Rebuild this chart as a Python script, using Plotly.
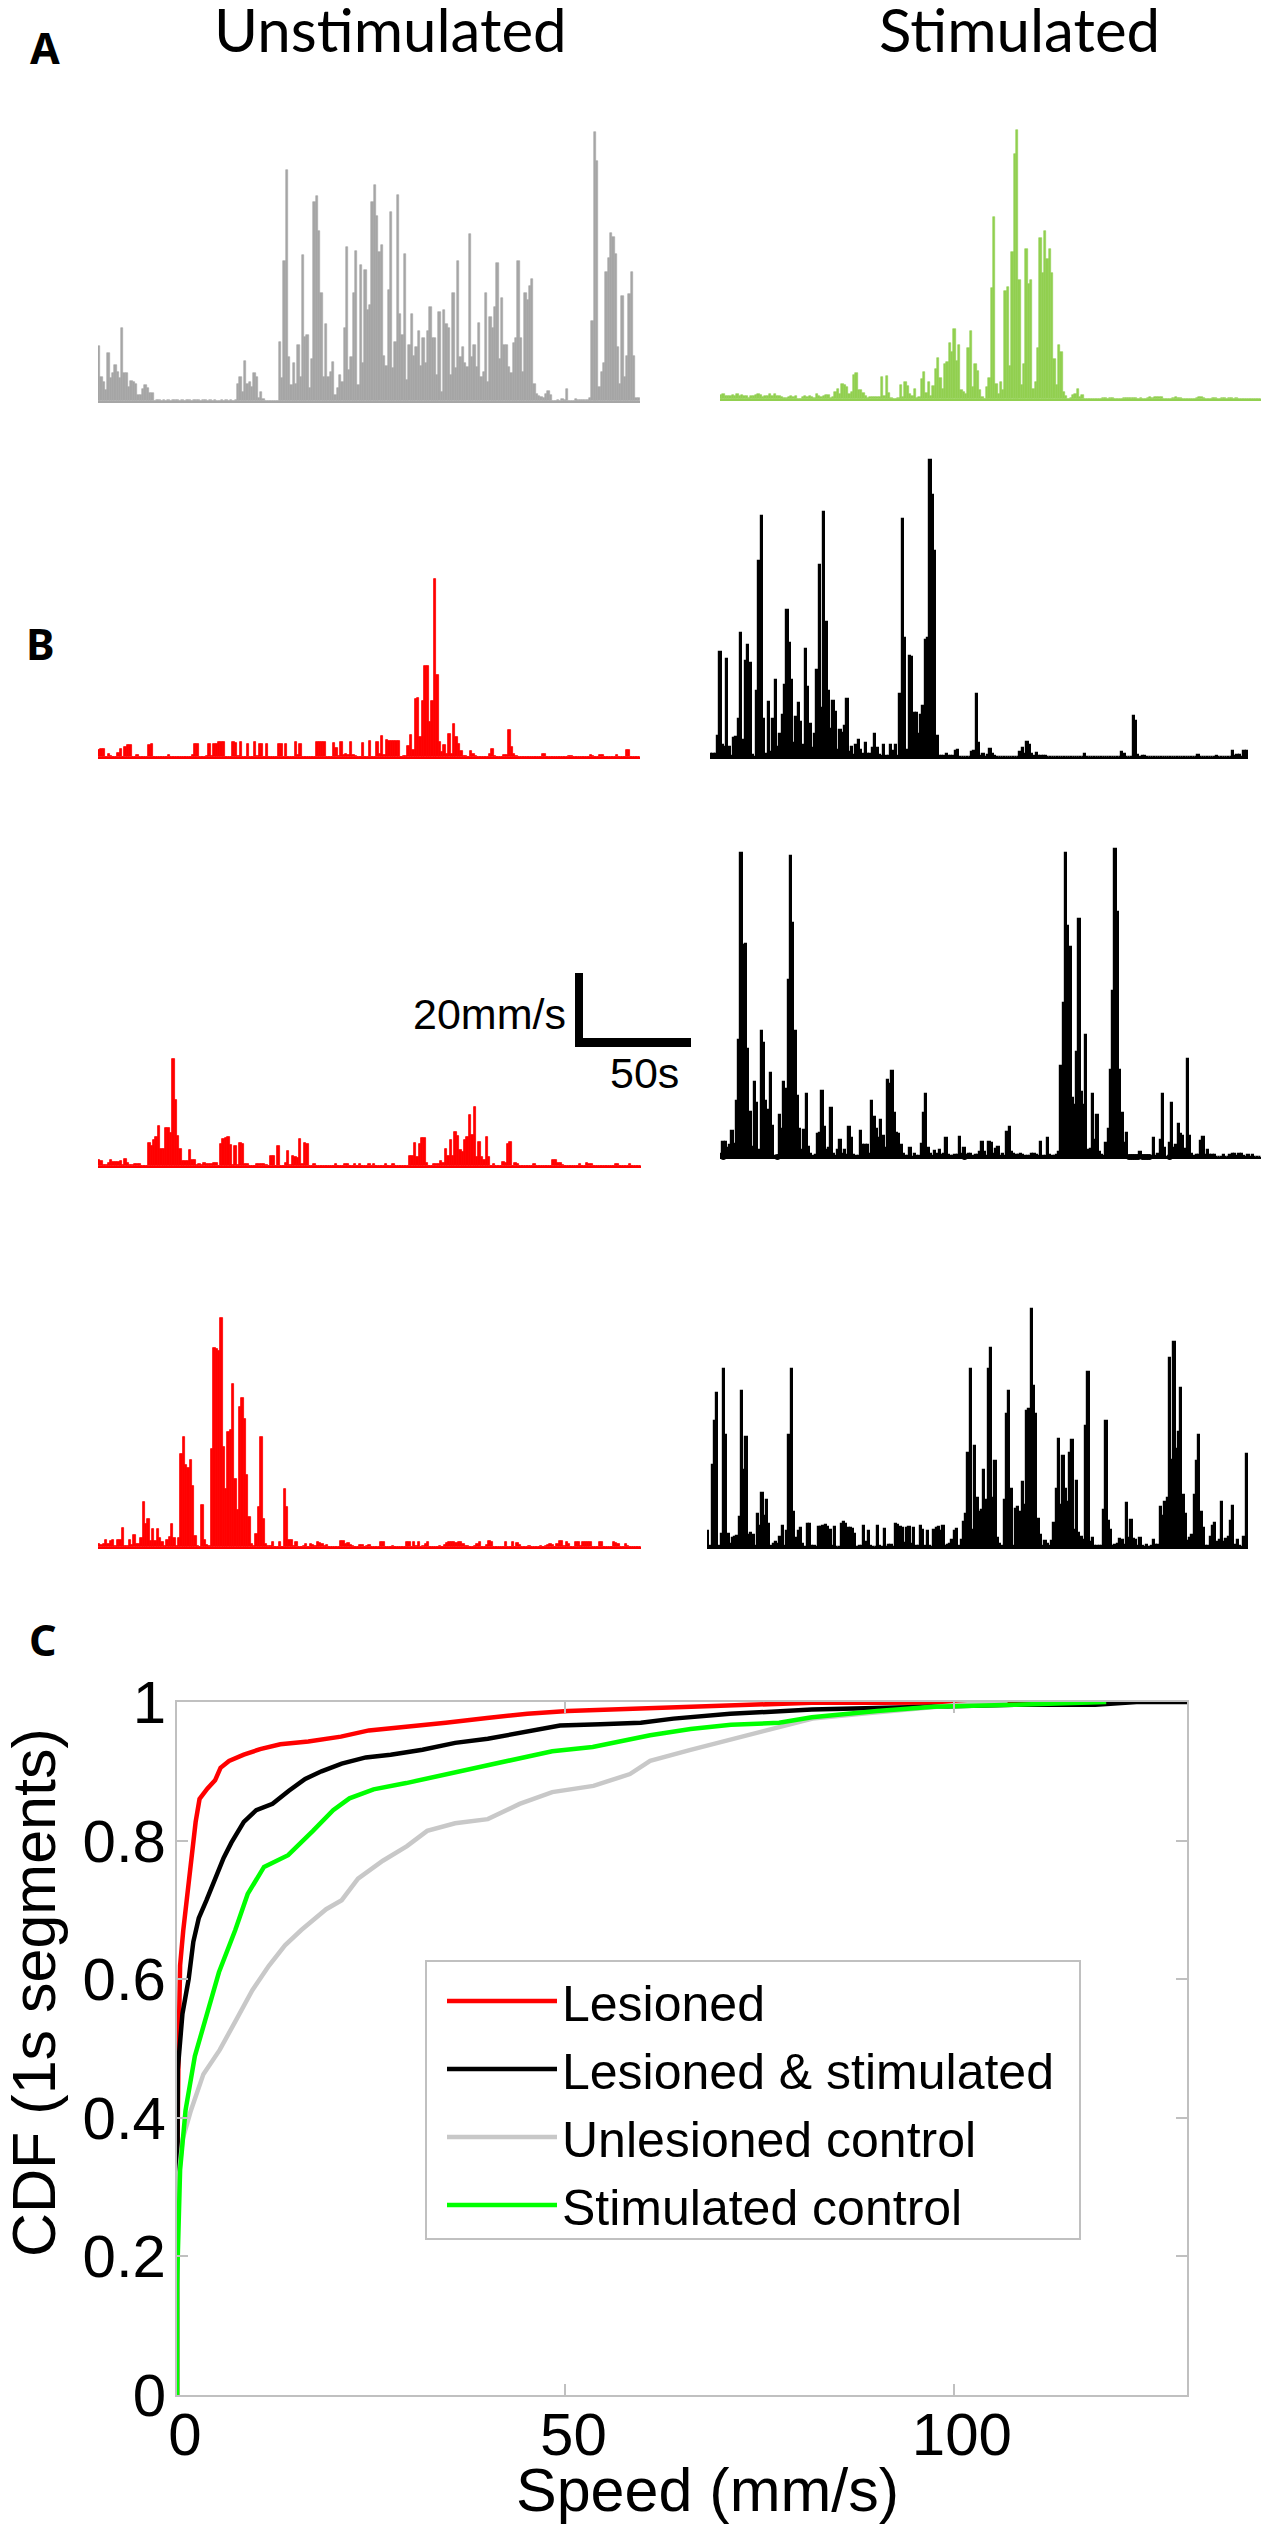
import plotly.graph_objects as go

W = 1267
H = 2536
BAR_PX_PER_MM = 3.5

# speed traces, mm/s per 1s segment
grey_unstim = [15.8,7,5.5,3.1,13.6,6.5,8,10.3,8.4,6.5,21,8,8,4,5.7,5.5,5,1.7,1.7,3.3,4.5,3.6,2.4,2.2,
    0.1,0.3,0.3,0.1,0.3,0.1,0.3,0.1,0.3,0.3,0.3,0.1,0.3,0.1,0.3,0.3,0.1,0.3,0.3,0.3,0.1,0.3,0.3,0.1,0.3,0.1,0.3,0.1,0.1,0.3,0.1,0.3,0.1,0.3,0.1,0.3,
    5,7,2.7,11.4,5,5.5,4,8,7,0.8,2.7,0.7,0.1,0.1,0.1,0.1,0.1,0.1,
    17,6.5,40,66,12.7,4.6,10.8,5,16,7,41.7,18.4,18.9,3.6,12,57,58.6,48.6,31,7,22,7,8.4,11.2,1.7,3.6,7.4,5.5,21,44,8.9,12.7,30.8,43,4.6,39,10.8,37.4,26,27.4,57,61.7,53,42.7,44.6,13,10,31.7,54,9.3,17,58.9,25,19,42,6,16,25,13,15.5,20,10,18,11,20,27,18,18,7.4,25.5,2.7,26,22,21,7.4,31,9.3,40,12.7,15.5,10.8,9.8,47.7,12.7,16,9.8,22.4,7,8.4,31,5.5,24,21,26.8,39.5,12,29.5,16,16,9.8,8,16.5,18,40,18,8.4,31,29,33,35,5,2,1.5,1.2,1,2,3,1.7,0.1,0.1,0.3,0.1,0.5,0.3,3.3,0.1,0.1,0.1,0.6,0.4,0.4,0.4,0.4,0.4,0.8,
    23,77,68.5,4,8.4,11,36.8,41,48,47,42,15.5,5,30,7,13,30.5,37,13,1,1]
green_stim = [1.2,1.3,1.0,0.9,1.0,1.1,1.0,1.3,1.0,1.2,1.0,1.0,0.3,0.9,1.0,1.1,1.5,1.2,0.7,0.8,1.0,1.3,0.9,1.3,0.8,1.0,0.7,0.2,0.2,0.6,0.8,0.6,0.9,
    0.1,0.1,0.7,0.8,0.5,0.9,0.5,0.4,1.3,0.8,0.6,0.8,1.1,1.2,0.3,0.6,
    2,2.8,1.4,4.3,4,3.3,1.3,2,7,7.5,2.5,2.5,1.8,1,0.2,0.6,0.6,0.6,0.7,0.5,6.4,0.8,6.6,1.7,0.2,0.1,0.1,0.2,4,0.6,4.9,3.7,1.5,1,2.8,0.2,0.6,5.6,7.8,1.7,5,1,3.7,8.5,11.6,6,2.8,10,10.5,16,13.5,20,11,15.5,2.5,2,1.5,14.5,19.5,3.5,10,8,2.5,0.5,0.1,3.5,6,31.8,52,4.2,1.5,4.8,2.5,31,32,9.5,42,70,77,34,4,10,43,33,34,3,5,14.5,46,36,48,40,43,36,11.5,4,15.5,13.5,2,1,0.1,0.2,1.2,1.3,3,0.5,1.2,
    0.1,0.1,0.1,0.1,0.1,0.1,0.1,0.1,0.3,0.3,0.1,0.2,0.3,0.1,0.1,0.1,0.1,0.3,0.4,0.3,0.2,0.4,0.3,0.1,0.2,0.1,0.1,0.3,0.5,0.4,0.5,0.6,0.5,0.5,0.1,0.1,0.1,0.1,0.3,0.6,0.4,0.3,0.1,0.1,0.1,0.1,0.1,0.1,0.4,0.5,0.5,0.4,0.1,0.1,0.1,0.3,0.3,0.1,0.1,0.3,0.4,0.1,0.3,0.3,0.1,0.3,0.1,0.1,0.1,0.1,0.1,0.1,0.1,0.1,0.1,0.1]
red_1 = [2,2.2,2.4,0.1,0.8,0.2,0.1,0.1,1.2,2.2,0.1,3,3.4,3.5,0.1,0.1,0.5,0.1,0.1,0.1,0.1,3.3,3.7,0.1,0.1,0.1,0.1,0.1,0.1,0.5,0.1,0.1,0.1,0.1,0.1,0.1,0.1,0.1,0.1,0.5,3.7,3.7,0.1,0.1,0.1,0.3,3.7,0.4,3.8,3.8,4.2,4.2,4.2,0.1,0.1,0.1,4.4,4,0.3,4.2,0.1,0.1,3.7,0.1,0.1,4.4,0.3,3.8,3.8,0.1,3.7,0.1,0.1,0.1,0.1,3.7,3.7,0.1,3.7,0.1,0.1,0.1,4.4,0.5,3.7,0.1,0.1,0.1,0.1,0.1,0.1,4.2,4.2,4.4,4.2,0.1,0.1,0.1,4,2.5,0.4,4.2,0.5,1,0.5,4.3,0.5,0.3,0.1,0.1,4,0.1,0.1,4.7,0.1,0.1,4.4,1,6.1,0.5,5,4.7,4.7,4.7,4.7,4.7,0.1,0.3,0.3,3.2,6.2,2,16.7,17,5.7,16,26,26,10,16,51,23.5,4.4,1.5,3.5,0.8,6.7,1,9.3,5.8,3.6,1.7,0.4,0.2,0.1,1.8,1,0.2,0.1,0.1,0.1,0.1,0.1,0.9,2.2,0.3,0.1,0.1,0.1,0.5,0.7,7.7,3,0.9,0.2,0.1,0.1,0.1,0.1,0.1,0.1,0.1,0.1,0.1,0.1,0.8,0.8,0.1,0.1,0.1,0.1,0.1,0.1,0.1,0.1,0.1,0.4,0.4,0.1,0.1,0.1,0.1,0.1,0.1,0.1,0.7,0.4,0.1,0.1,0.7,0.7,0.1,0.1,0.1,0.1,0.1,0.7,0.1,0.1,0.1,1.9,1.9,0.1,0.1,0.1,0.1]
black_1 = [0.8,0.8,1,6,30,3.5,3,28,3,0.2,5.5,5.8,10.8,35.5,5,27.5,32,27,0.5,0.1,19,56,69,11,1,15.8,1.5,11,22,3,6.5,12,20.5,42,32.5,22,4,11.5,15.5,10,3.5,31,20,9.5,2.5,6.5,25,55,14,70,38.5,19,8,16,13,2,7.8,7,9,16.5,1.5,2.8,0.5,3.5,5,2,1,4,1,1,2.5,6.7,2.5,0.5,0.2,3.5,0.2,0.2,3.3,1.7,3.3,0.2,18,68,34,2,29,28.5,12.5,12.5,6.5,12,14.5,33.5,34,85,75,59,6,0.3,0.3,0.4,1,0.3,0.2,0.2,1.6,2,0.1,0.1,0.1,0.1,0.1,1.5,1.8,18,4,0.2,0.8,0.1,0.6,2.2,1,0.4,0.1,0.1,0.1,0.1,0.1,0.1,0.1,0.1,0.1,0.1,1.5,2.6,1,4.2,3.5,1,0.2,1.1,0.2,0.4,0.2,0.4,0.05,0.05,0.05,0.05,0.05,0.05,0.05,0.05,0.05,0.05,0.05,0.05,0.05,0.05,0.05,0.05,1,0.05,0.05,0.05,0.05,0.05,0.05,0.05,0.05,0.05,0.05,0.05,0.05,0.05,0.05,0.05,1.5,1,0.1,0.1,0.1,11.6,10.2,0.6,0.1,0.4,0.4,0.05,0.05,0.05,0.05,0.05,0.05,0.05,0.05,0.05,0.05,0.05,0.05,0.05,0.05,0.05,0.05,0.05,0.05,0.05,0.05,0.05,0.05,0.6,0.05,0.05,0.05,0.05,0.05,0.05,0.05,0.4,0.05,0.05,0.05,0.05,0.05,0.05,1.6,0.2,0.5,0.7,0.1,1.7,1.8]
red_2 = [1.7,1.5,0.3,0.3,0.8,1.7,1.2,1.2,1.2,1.3,0.4,1.9,0.8,0.2,0.2,0.5,0.5,0.5,0.1,0.1,0.1,6.6,5.8,7.4,8.4,11.4,5,5,11,11,9.5,30.5,19,8.5,5,1.4,1.4,1.4,4.5,1.8,1.8,0.2,0.6,0.2,1,0.7,0.7,0.7,1,0.8,0.1,6.2,7.8,8,8.2,6,0.2,5.8,0.2,6.5,6.2,0.6,0.5,0.1,0.1,0.1,0.5,0.5,0.5,0.5,0.4,0.1,3,2.8,0.1,5.8,0.1,0.1,1,4.2,0.4,3,2.5,2.3,7.7,0.5,6.5,6.2,0.1,0.1,0.5,0.1,0.1,0.1,0.1,0.1,0.1,0.1,0.1,0.5,0.1,0.1,0.1,0.5,0.5,0.1,0.1,0.5,0.1,0.5,0.1,0.1,0.1,0.5,0.1,0.5,0.1,0.1,0.1,0.1,0.5,0.1,0.1,0.5,0.1,0.1,0.1,0.1,0.1,0.1,2.9,2.9,6.5,2.5,6.3,8,8,1,0.1,0.1,0.5,0.5,0.5,1.3,1,5,2.8,7.3,3,9.7,8.5,4.5,4,7.5,8.2,14.5,8.8,17,2.5,6.8,2.7,1.7,8.4,2.5,0.1,0.5,0.1,0.1,0.1,1.2,1,6.3,6.9,0.1,1,0.6,0.1,0.1,0.1,0.1,0.1,0.1,0.5,0.1,0.1,0.1,0.1,0.1,0.1,0.1,1.7,1.8,1,0.9,0.4,0.1,0.1,0.1,0.1,0.1,0.1,0.5,0.1,0.1,1,0.6,0.6,0.1,0.1,0.1,0.1,0.1,0.1,0.1,0.1,0.1,0.6,0.6,0.1,0.1,0.1,0.1,0.5,0.1,0.1,0.1,0.1]
black_2 = [1,4.2,4.2,2.5,3.5,7.3,3.8,16,33.5,87,60.5,61,31,13,3,21.5,15.5,2,36,32.5,16,13.5,24,9,0.3,0.2,12,8,21.5,19.5,50.5,86,67,36,17.5,8,2,7.8,18,3,1,0.4,0.5,6.5,7,19,8.5,2,2.5,14,1,0.2,2,5,1,2,0.5,8.7,5.5,0.5,0.2,0.2,7.5,3.5,3.5,3.5,1,16,11.5,8,5.5,10.5,6,2.5,22,21,24.5,12.5,7,6.5,3.3,1,0.4,0.4,2.7,0.1,1,0.2,0.3,3.8,12.7,18,2.5,1,0.2,1.7,1,2,0.7,1,5.5,0.7,0.3,0.4,0.5,0.7,5.6,1,2.7,0.7,1,1,0.2,0.5,0.6,1.5,4.2,1.4,0.3,4.2,4,1,2.3,3,0.3,1,0.2,7.2,8.5,1.3,1,0.6,0.5,0.9,0.5,0.3,0.4,0.4,0.8,0.9,0.5,0.3,4.2,0.4,0.3,5.5,0.7,0.4,0.3,0.6,1.5,26,44,87,66,60,17,15,30,68,18.5,15,35,2,2.2,18,5,12,1.5,0.6,0.3,4,8,25,47.5,88,70,25,12.5,4,7,0.1,0.1,0.1,0.1,0.1,1.3,0.1,0.1,0.1,0.1,0.1,5.5,0.3,1,5,18,2.7,0.1,4,15.5,2.7,3.3,9.5,6.5,6,2.3,28,6,0.9,0.3,0.5,0.5,4.5,5.8,0.6,2,0.6,0.6,0.5,0.1,0.1,0.1,0.5,0.1,0.1,0.7,1,1,0.3,1,1,0.3,0.1,0.6,0.1,0.6,0.1,0.1,0.1]
black_2_dots = [1,25,108,181,182,183,184,185,187,188,189,190,199]
red_3 = [1,0.6,1,2,1,1.8,2,0.4,2,2,5.3,0.3,0.4,2,0.5,3.3,1,1,2.7,13,6.5,7.9,1.8,5.2,1.8,5.2,2.6,1.4,0.3,2,2.8,6.5,2.5,0.3,2.7,26.5,31.5,23.5,22.5,25,17.5,3.2,0.2,0.1,12,2,0.5,0.3,28,57,56.5,56,65.5,28.5,16.5,33,33.5,46.5,19.5,10.5,40,42.5,36.5,20.5,8.5,0.8,0.2,3.7,11.5,31.5,8,0.9,0.2,0.2,1.4,0.1,0.1,1.4,0.1,16.5,11.5,2,2,0.2,1.4,0.1,0.1,0.4,1,0.1,1,0.7,0.4,1.4,1.1,0.8,0.4,0.6,0.1,0.1,0.1,0.1,0.1,1.8,1.8,1,1.2,0.5,0.2,0.1,0.1,0.6,0.6,0.1,0.4,0.6,0.1,0.1,0.1,0.1,1.4,1.4,0.1,0.1,0.1,0.3,0.1,0.1,0.1,0.1,0.1,1.4,1.4,0.1,1.4,0.2,1.4,0.1,0.4,1,1.4,0.1,0.1,0.1,0.1,0.3,0.1,0.5,1.2,1.4,1.4,1.4,1.2,1.4,1.3,1,0.4,0.2,0.1,0.1,0.3,1,1.4,0.1,0.1,0.5,1.7,1.5,0.1,0.1,0.1,0.1,0.1,1.4,0.1,0.1,1.4,0.1,1.2,0.7,0.1,0.1,0.1,0.3,0.1,0.1,0.1,0.1,0.3,0.1,0.3,0.6,1,0.5,0.1,1,1.7,1.7,0.3,1.4,1,0.1,0.1,1.3,1.3,0.4,1.3,1.4,1.4,1.4,0.1,0.1,0.1,1.4,1.4,0.1,0.1,0.1,0.1,1.4,1.2,1,0.1,0.1,1,0.4,0.1,0.1,0.1,0.1,0.1]
black_3 = [4.5,0.2,23.5,36,44,0.3,3.6,51,32,3.8,1,2.5,2.8,3.2,8.7,44.5,22,31.5,3.5,4,3.5,0.2,9.3,6,15.5,9,13.3,6.5,0.2,1,1.3,1,3,6,0.4,4.5,32,51,10,2.7,4.5,5.3,1,0.1,6.7,6.5,0.3,0.3,0.1,5.6,5.8,5.9,6.2,5.8,4.8,0.2,5.6,0.1,0.1,6.7,7.2,6.5,5.4,5.3,5.2,3.8,0.1,0.2,0.3,5.9,1.5,4.5,0.4,0.1,0.1,5.9,0.3,0.1,5.2,0.1,0.6,0.5,0.1,6.5,6.2,5.8,5.5,1.2,5.3,5.7,1,5.5,0.2,0.4,6,4.8,0.4,4.7,0.2,0.1,5,5.5,5.8,4.6,6,0.2,0.5,1,2,4.7,5.2,0.3,2,7.2,9.5,27,51,5,29,14,10,10.5,22,13.5,51,57,14,24.5,2.5,1,0.2,13.5,38,44.5,16.5,0.3,11,11.5,10,18.5,12,39,39.5,68,46,38,8,3.3,0.3,1.7,1,0.4,1.7,7,16.5,31,12,26,16.5,13,27,30.5,5,19,4,3,2,34.5,50,1.5,2.7,0.2,0.2,0.2,0.2,10.5,36,7.5,5,0.2,0.5,1,2.4,2,0.6,12.5,2.5,7.8,2.2,2,0.3,2.6,0.2,0.1,0.6,0.1,0.2,2,0.7,0.7,11.5,9,13,14,54,25,58.5,28,33,45.5,15,9.5,1.7,2.5,3.5,15,24.5,32,10,5.3,0.4,0.4,3,6,7,1.5,2,13,1.5,2.2,3,7.5,11.7,0.6,2,0.2,0.1,3,26.5]

# cumulative distributions
lesioned_x = [0,0,0.2,0.4,0.8,1.5,1.9,2.4,2.9,3.9,4.9,5.6,6.7,8.6,10.7,13.3,16.9,21.1,24.7,29.4,34.6,39.9,45.1,50.3,57.7,63.9,71.2,81.7,90,105,113]
lesioned_y = [0,0.29,0.5,0.62,0.67,0.74,0.78,0.827,0.86,0.875,0.887,0.905,0.915,0.924,0.932,0.939,0.943,0.95,0.959,0.964,0.97,0.977,0.983,0.987,0.99,0.993,0.995,0.999,0.999,0.999,1]
lesioned_stim_x = [0,0,0.1,0.7,1.5,2.1,2.8,3.8,4.9,6,7,8.6,10.2,12.3,14.4,16.5,18.6,21.2,24.3,27.5,31.6,35.8,40,45.1,49.3,54.5,59.7,63.9,71.2,81.7,91.1,107.8,118.2,123.5,130]
lesioned_stim_y = [0,0.16,0.47,0.55,0.6,0.654,0.688,0.714,0.745,0.775,0.797,0.827,0.844,0.853,0.872,0.889,0.9,0.911,0.92,0.924,0.931,0.941,0.947,0.957,0.966,0.968,0.97,0.976,0.983,0.989,0.991,0.996,0.996,1,1]
unlesioned_x = [0,0.1,0.7,1.8,3.4,5.5,7.6,9.7,11.8,13.9,16,19.2,21.2,23.3,26.5,29.6,32.2,35.8,40,44.1,48.3,53.6,58.3,60.9,66.1,71.4,76.6,81.8,88.1,94.4,100.6,106.9]
unlesioned_y = [0,0.3,0.368,0.411,0.463,0.498,0.541,0.584,0.619,0.649,0.671,0.701,0.714,0.745,0.771,0.792,0.814,0.825,0.831,0.853,0.87,0.879,0.896,0.915,0.931,0.946,0.961,0.976,0.983,0.99,0.996,1]
stim_control_x = [0,0,0.4,1.1,2.3,3.9,5.4,7.5,9.1,11.2,14.3,17.5,20.1,22.2,25.3,29.5,34.7,38.9,44.1,48.3,53.5,57.7,60.9,66.1,71.3,77.5,81.7,90.1,97.4,107.8,119.6]
stim_control_y = [0,0.16,0.325,0.411,0.489,0.55,0.61,0.671,0.723,0.762,0.779,0.814,0.844,0.861,0.874,0.883,0.896,0.906,0.92,0.929,0.935,0.944,0.952,0.961,0.967,0.97,0.978,0.987,0.993,0.996,1]

def px(x):
    return x / W

def py(y):
    return 1 - y / H

# speed panels: values, colour, bar outline, left, right, baseline, top (all in picture pixels)
panels = [
    (grey_unstim, '#a6a6a6', 0.6, 98, 640, 401, 120),
    (green_stim, '#92d050', 0.6, 720, 1261, 399, 120),
    (red_1, '#ff0000', 0.8, 98, 640, 757, 560),
    (black_1, '#000000', 1.2, 710, 1248, 757, 445),
    (red_2, '#ff0000', 0.8, 98, 641, 1166, 1040),
    (black_2, '#000000', 1.2, 720, 1261, 1157, 840),
    (red_3, '#ff0000', 0.8, 98, 641, 1547, 1300),
    (black_3, '#000000', 1.2, 707, 1248, 1547, 1300),
]

fig = go.Figure()
layout = {}
for i, (vals, col, edge, left, right, base, top) in enumerate(panels):
    n = i + 2
    fig.add_trace(go.Bar(x=list(range(len(vals))), y=vals, marker=dict(color=col, line=dict(color=col, width=edge)),
                         xaxis='x%d' % n, yaxis='y%d' % n, showlegend=False, hoverinfo='skip'))
    layout['xaxis%d' % n] = dict(domain=[px(left), px(right)], anchor='y%d' % n, range=[-0.5, len(vals) - 0.5],
                                 automargin=False, showgrid=False, zeroline=False, showticklabels=False, ticks='',
                                 showline=True, linecolor=col, linewidth=2)
    layout['yaxis%d' % n] = dict(domain=[py(base), py(top)], anchor='x%d' % n, range=[0, (base - top) / BAR_PX_PER_MM],
                                 automargin=False, visible=False)
    if vals is black_2:
        fig.add_trace(go.Scatter(x=black_2_dots, y=[0] * len(black_2_dots), mode='markers',
                                 marker=dict(color='black', size=6), cliponaxis=False,
                                 xaxis='x%d' % n, yaxis='y%d' % n, showlegend=False, hoverinfo='skip'))

curves = [
    ('Lesioned', lesioned_x, lesioned_y, '#ff0000'),
    ('Lesioned & stimulated', lesioned_stim_x, lesioned_stim_y, '#000000'),
    ('Unlesioned control', unlesioned_x, unlesioned_y, '#c8c8c8'),
    ('Stimulated control', stim_control_x, stim_control_y, '#00ff00'),
]
for name, x, y, col in curves:
    fig.add_trace(go.Scatter(x=x, y=y, name=name, mode='lines', cliponaxis=False,
                             line=dict(color=col, width=4.5)))

tick_font = dict(family='Liberation Sans', size=60, color='black')
text_font = dict(family='Liberation Sans', size=61, color='black')
label_font = dict(family='Noto Sans', size=43, color='black', weight='bold')
title_font = dict(family='Lato', size=60, color='black')
scale_font = dict(family='Liberation Sans', size=43, color='black')

def note(text, x, y, font, angle=0):
    return dict(text=text, x=px(x), y=py(y), xref='paper', yref='paper', showarrow=False,
                xanchor='center', yanchor='middle', font=font, textangle=angle)

fig.update_layout(
    width=W, height=H, margin=dict(l=0, r=0, t=0, b=0),
    paper_bgcolor='white', plot_bgcolor='white', bargap=0, barmode='overlay',
    xaxis=dict(domain=[px(177), px(1187)], range=[0, 130], tickvals=[0, 50, 100], ticktext=['0', '50', '100'],
               ticks='inside', ticklen=11, tickcolor='#c0c0c0', tickwidth=2, showgrid=False, zeroline=False, automargin=False,
               showline=True, linecolor='#c0c0c0', linewidth=2, mirror='ticks', tickfont=tick_font,
               ticklabelshift=8, ticklabelstandoff=-14),
    yaxis=dict(domain=[py(2395), py(1702)], range=[0, 1], tickvals=[0, 0.2, 0.4, 0.6, 0.8, 1],
               ticktext=['0', '0.2', '0.4', '0.6', '0.8', '1'],
               ticks='inside', ticklen=11, tickcolor='#c0c0c0', tickwidth=2, showgrid=False, zeroline=False, automargin=False,
               showline=True, linecolor='#c0c0c0', linewidth=2, mirror='ticks', tickfont=tick_font,
               ticklabelstandoff=-3),
    legend=dict(x=px(442), y=py(1962), xanchor='left', yanchor='top', bgcolor='rgba(0,0,0,0)', borderwidth=0,
                itemwidth=110, font=dict(family='Liberation Sans', size=50, color='black'), tracegroupgap=0),
    shapes=[
        dict(type='rect', xref='paper', yref='paper', x0=px(426), x1=px(1080), y0=py(2239), y1=py(1961),
             line=dict(color='#c0c0c0', width=2), layer='above'),
        # scale bar
        dict(type='rect', xref='paper', yref='paper', x0=px(575), x1=px(583), y0=py(1047), y1=py(973),
             fillcolor='black', line_width=0),
        dict(type='rect', xref='paper', yref='paper', x0=px(575), x1=px(691), y0=py(1047), y1=py(1038),
             fillcolor='black', line_width=0),
    ],
    annotations=[
        note('Unstimulated', 390, 29, title_font),
        note('Stimulated', 1019, 29, title_font),
        note('A', 45, 48, label_font),
        note('B', 41, 643, label_font),
        note('C', 43, 1639, label_font),
        note('20mm/s', 489, 1014, scale_font),
        note('50s', 645, 1073, scale_font),
        note('CDF (1s segments)', 34, 1993, text_font, -90),
        note('Speed (mm/s)', 707, 2490, text_font),
    ],
    **layout,
)
fig.write_html("out.html", config=dict(displayModeBar=False),
               post_script="document.body.style.margin='0';document.body.style.overflow='hidden';")
